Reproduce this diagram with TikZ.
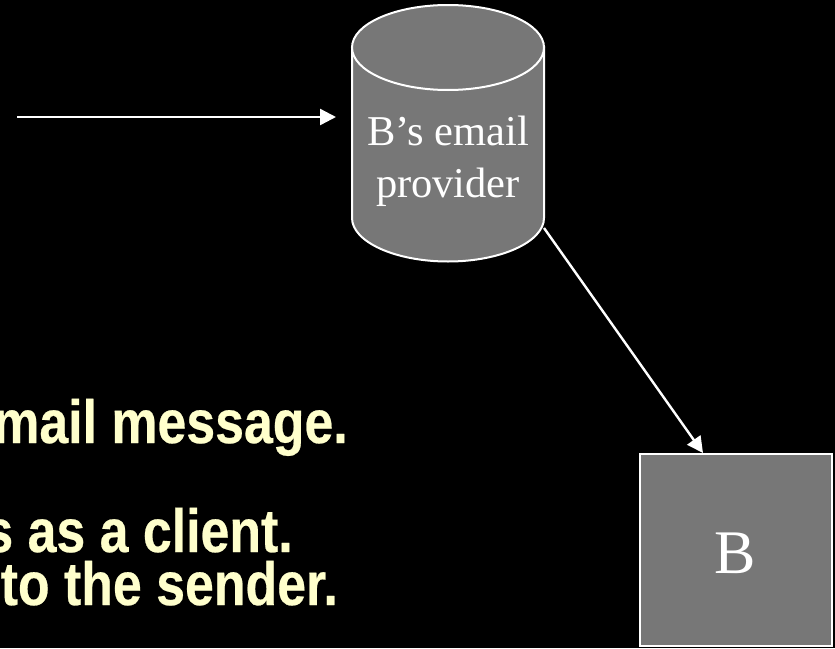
\documentclass[tikz,border=0pt]{standalone}
\usepackage{fontspec}
\newfontfamily\labelfont{Liberation Serif}
\newfontfamily\captionfont[FakeStretch=0.85,FakeBold=0.4]{Liberation Sans Bold}
\usetikzlibrary{arrows.meta}
\definecolor{shapegray}{HTML}{777777}
\definecolor{captionyellow}{HTML}{FFFFCC}
\tikzset{
  x=1pt,y=-1pt,
  shapebox/.style={fill=shapegray,draw=white,line width=2pt},
  arrowline/.style={draw=white,line width=2.4pt,-{Triangle[length=16pt,width=16pt]}},
  shapetext/.style={text=white,inner sep=0pt,anchor=base,font=\labelfont\fontsize{42.5}{42.5}\selectfont},
  captiontext/.style={text=captionyellow,inner sep=0pt,anchor=base east,font=\captionfont\fontsize{61}{61}\selectfont},
}
\begin{document}
\begin{tikzpicture}
\useasboundingbox (0,0) rectangle (835,648);
\clip (0,0) rectangle (835,648);
\fill[black] (0,0) rectangle (835,648);
% provider cylinder
\draw[shapebox] (352,47) -- (352,218) .. controls (352,241.7) and (395,261.5) .. (448,261.5)
  .. controls (501,261.5) and (544,241.7) .. (544,218) -- (544,47) -- cycle;
\draw[shapebox] (448,47.5) ellipse [x radius=96,y radius=42.5];
\node[shapetext] (provA) at (448,145) {B’s email};
\node[shapetext] (provB) at (448,197) {provider};
% box B
\node[shapebox,minimum width=192pt,minimum height=192pt,inner sep=0pt] (boxB) at (736,550) {};
\node[shapetext,font=\labelfont\fontsize{62}{62}\selectfont] (labelB) at (735,573) {B};
% connectors
\coordinate (inStart) at (17,117);
\coordinate (inEnd) at (336,117);
\coordinate (outStart) at (544,228);
\coordinate (outEnd) at (703,453);
\draw[arrowline] (inStart) -- (inEnd);
\draw[arrowline] (outStart) -- (outEnd);
% captions
\node[captiontext] (capA) at (348,443) {mail message.};
\node[captiontext] (capB) at (293,552) {s as a client.};
\node[captiontext] (capC) at (338,605) {to the sender.};
\end{tikzpicture}
\end{document}
